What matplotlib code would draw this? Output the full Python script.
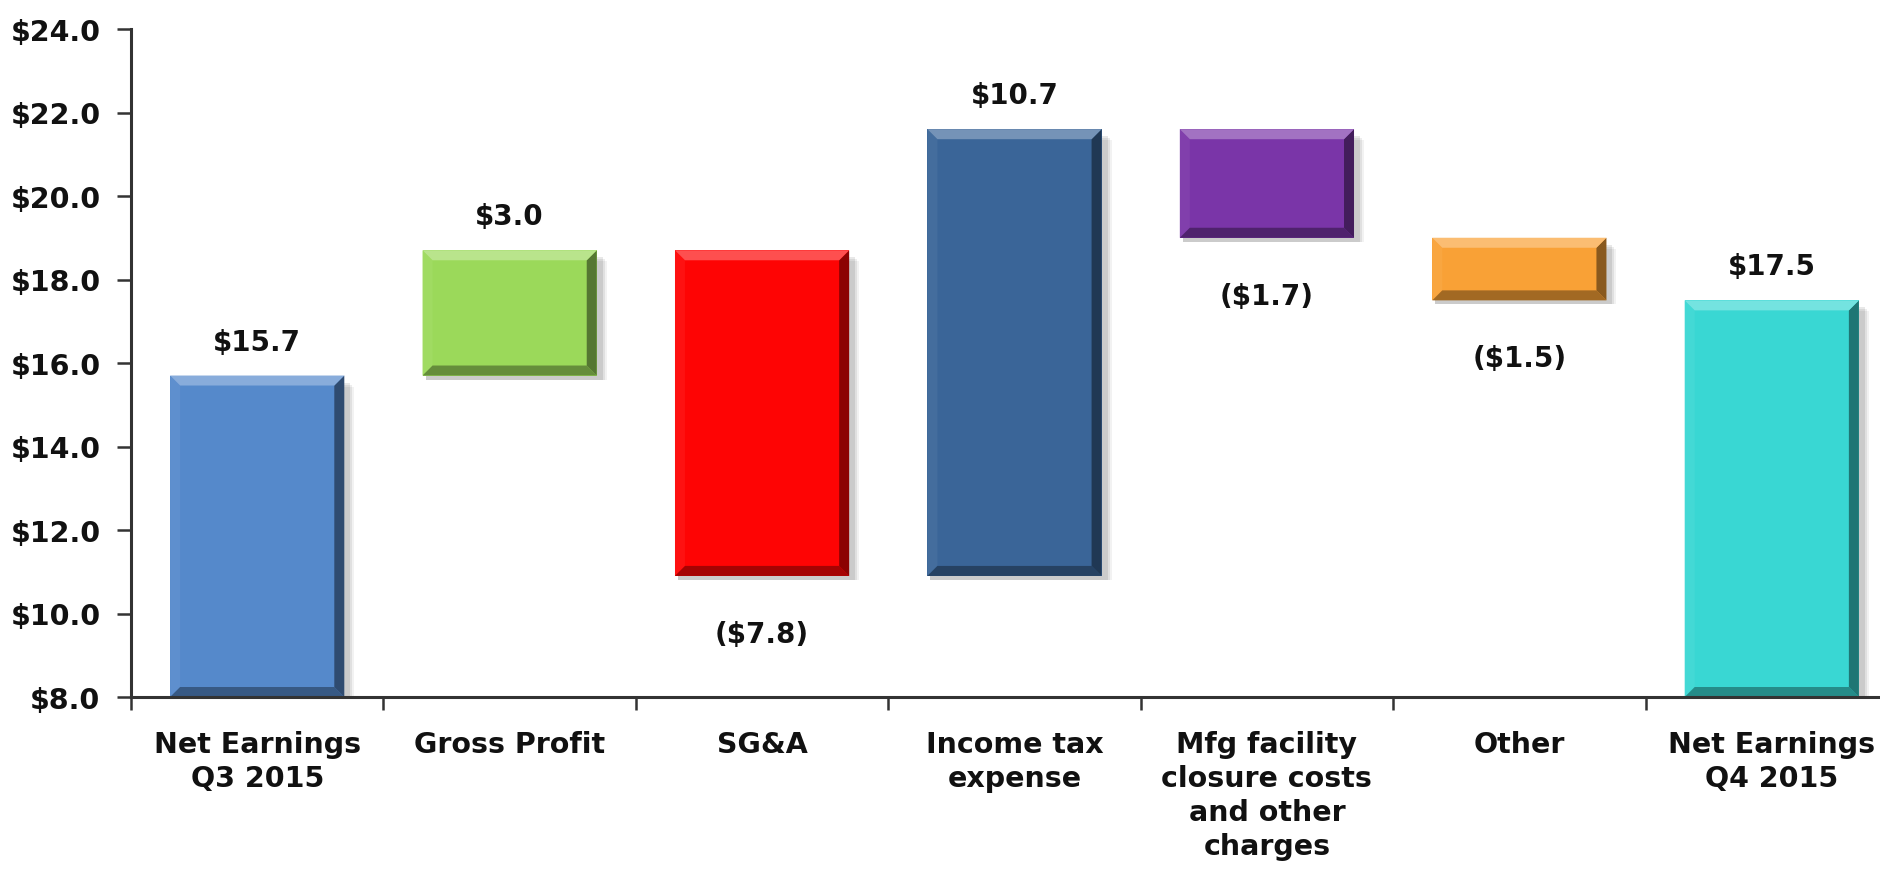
import matplotlib

matplotlib.use("Agg")
import matplotlib.colors as mcolors
import matplotlib.pyplot as plt
import numpy as np
from matplotlib.patches import Polygon, Rectangle

plt.rcParams.update({"font.family": ["DejaVu Sans"], "font.weight": "bold"})

categories = [
    "Net Earnings\nQ3 2015",
    "Gross Profit",
    "SG&A",
    "Income tax\nexpense",
    "Mfg facility\nclosure costs\nand other\ncharges",
    "Other",
    "Net Earnings\nQ4 2015",
]
# bar changes as drawn (first and last are totals)
changes = [15.7, 3.0, -7.8, 10.7, -2.6, -1.5, 17.5]
is_total = [True, False, False, False, False, False, True]
value_labels = ["$15.7", "$3.0", "($7.8)", "$10.7", "($1.7)", "($1.5)", "$17.5"]
colors = ["#5589cb", "#9bd95a", "#fe0404", "#3a6598", "#7a35a8", "#f9a136", "#39d7d3"]

y_min, y_max = 8.0, 24.0
y_ticks = np.arange(8, 25, 2)

fig_w, fig_h = 18.81, 8.78
fig = plt.figure(figsize=(fig_w, fig_h), dpi=100)
ax_rect = [131 / 1881, 1 - 698 / 878, 1767 / 1881, 668 / 878]
ax = fig.add_axes(ax_rect)

x_min, x_max = -0.5, len(categories) - 0.5
ax.set_xlim(x_min, x_max)
ax.set_ylim(y_min, y_max)

# data units per pixel, used for bevel and shadow sizes
px_x = (x_max - x_min) / (ax_rect[2] * fig_w * 100)
px_y = (y_max - y_min) / (ax_rect[3] * fig_h * 100)

width = 0.69
text_color = "#111111"


def shade(color, f):
    rgb = np.array(mcolors.to_rgb(color))
    if f > 0:
        return tuple(rgb + (1 - rgb) * f)
    return tuple(rgb * (1 + f))


def bevel_bar(x, y0, y1, color):
    x0, x1 = x - width / 2, x + width / 2
    # soft shadow
    for k, a in [(7, 0.05), (5, 0.07), (3, 0.09)]:
        ax.add_patch(
            Rectangle(
                (x0 + 3 * px_x, y0 - 4 * px_y),
                width + k * px_x,
                (y1 - y0) - k * px_y,
                facecolor="black",
                alpha=a,
                edgecolor="none",
                zorder=1,
            )
        )
    ax.bar(x, y1 - y0, bottom=y0, width=width, color=color, zorder=2)
    b_x, b_y = 10 * px_x, 10 * px_y
    top = [(x0, y1), (x1, y1), (x1 - b_x, y1 - b_y), (x0 + b_x, y1 - b_y)]
    right = [(x1, y1), (x1, y0), (x1 - b_x, y0 + b_y), (x1 - b_x, y1 - b_y)]
    bottom = [(x0, y0), (x1, y0), (x1 - b_x, y0 + b_y), (x0 + b_x, y0 + b_y)]
    left = [(x0, y0), (x0, y1), (x0 + b_x, y1 - b_y), (x0 + b_x, y0 + b_y)]
    for pts, f in [(left, 0.05), (bottom, -0.35), (right, -0.45), (top, 0.3)]:
        ax.add_patch(Polygon(pts, closed=True, facecolor=shade(color, f), edgecolor="none", zorder=3))


level = 0.0
for i, (ch, tot) in enumerate(zip(changes, is_total)):
    if tot:
        y0, y1 = y_min, ch
        level = ch
    else:
        y0, y1 = sorted([level, level + ch])
        level = level + ch
    bevel_bar(i, y0, y1, colors[i])
    if ch >= 0:
        ax.annotate(
            value_labels[i], (i, y1), xytext=(0, 34), textcoords="offset pixels",
            ha="center", va="center", fontsize=20, fontweight="bold", color=text_color,
        )
    else:
        ax.annotate(
            value_labels[i], (i, y0), xytext=(0, -58), textcoords="offset pixels",
            ha="center", va="center", fontsize=20, fontweight="bold", color=text_color,
        )

ax.set_yticks(y_ticks)
ax.set_yticklabels([f"${v:.1f}" for v in y_ticks], fontsize=20.5, fontweight="bold", color=text_color)
ax.set_xticks(range(len(categories)))
ax.set_xticklabels(categories, fontsize=20.5, fontweight="bold", color=text_color, linespacing=1.27)
ax.set_xticks(np.arange(x_min, x_max + 0.01, 1.0), minor=True)
ax.tick_params(axis="x", which="major", length=0, pad=24)
ax.tick_params(axis="x", which="minor", length=9, width=1.8, color="#333333")
ax.tick_params(axis="y", length=10, width=1.8, color="#333333", pad=12)

for s in ["top", "right"]:
    ax.spines[s].set_visible(False)
for s in ["left", "bottom"]:
    ax.spines[s].set_linewidth(2.2)
    ax.spines[s].set_color("#333333")
ax.spines["bottom"].set_zorder(5)

fig.savefig("out.png", dpi=100)
plt.close(fig)
